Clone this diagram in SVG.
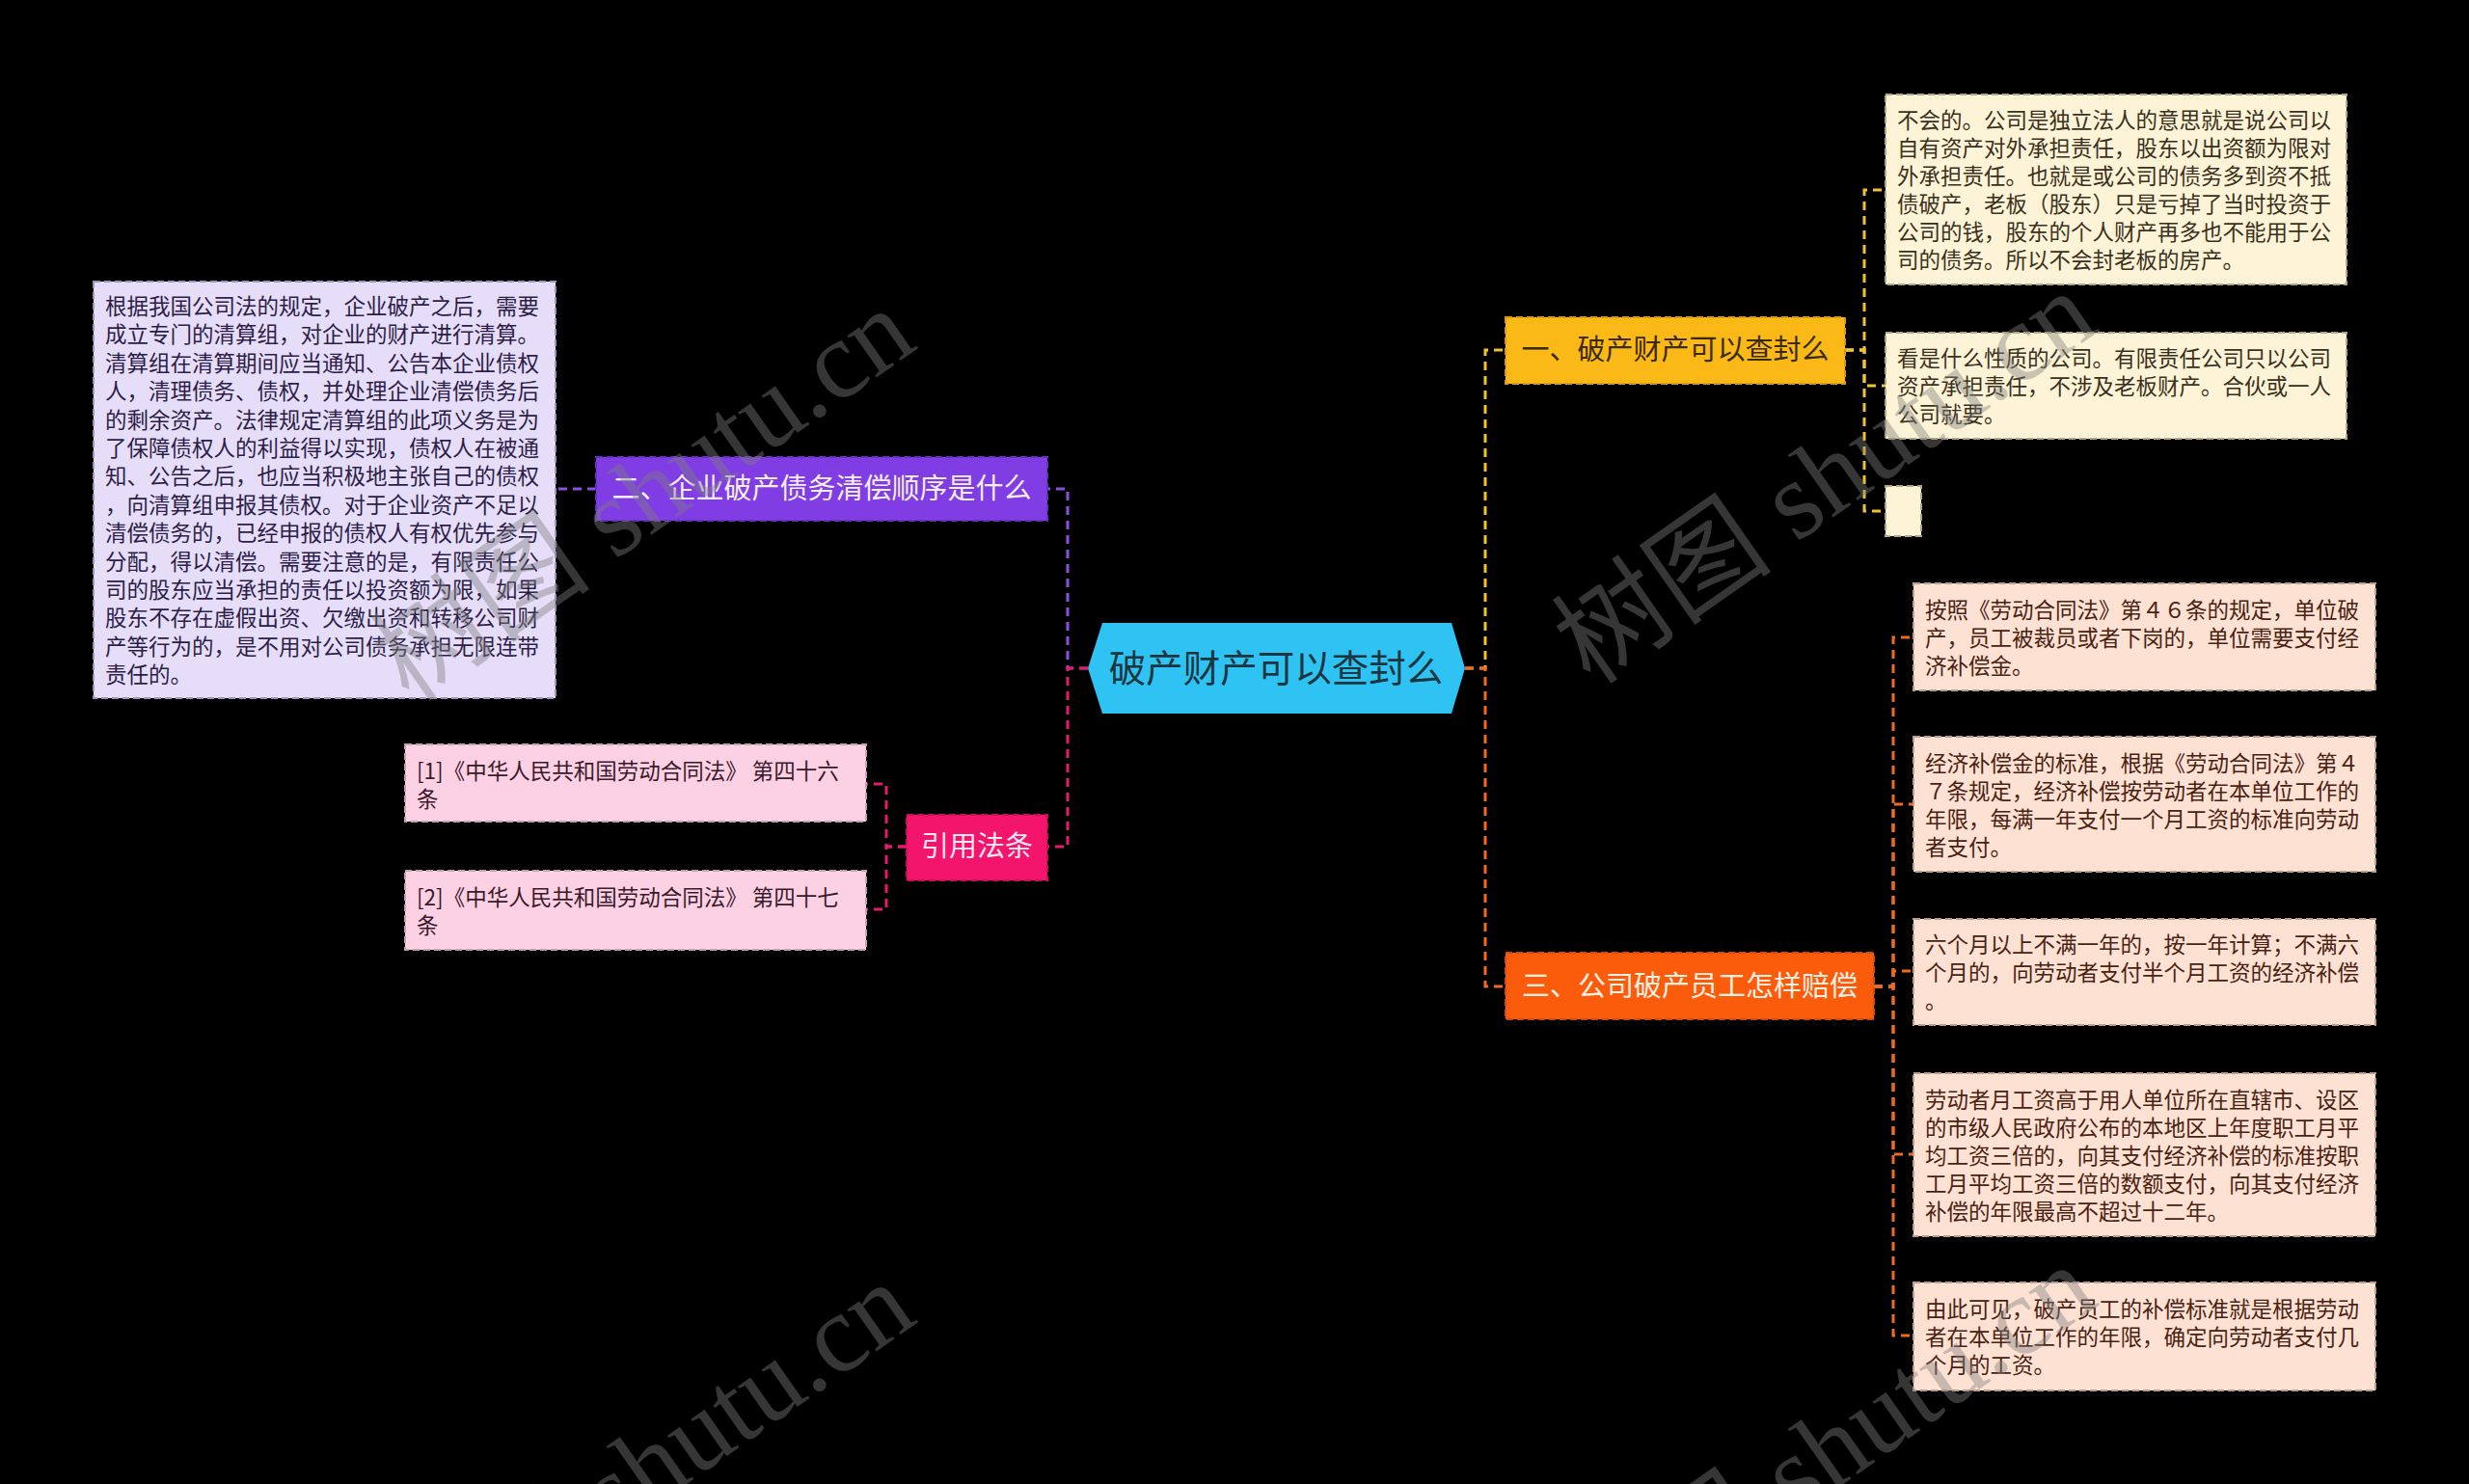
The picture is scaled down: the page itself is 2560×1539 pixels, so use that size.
<svg xmlns="http://www.w3.org/2000/svg" width="2560" height="1539" viewBox="0 0 2560 1539">
<style>
.bg{fill:#000}
.cn{fill:none;stroke-width:3;stroke-dasharray:9 6}
.cy{stroke:#f2c12e}.co{stroke:#f26a22}.cp{stroke:#8b4fe0}.ck{stroke:#e8196e}
.t{font-family:"Noto Sans CJK SC","Noto Sans",sans-serif;font-size:22.5px}
.tm{font-family:"Noto Sans CJK SC","Noto Sans",sans-serif;font-size:29px;text-anchor:middle}
.box{stroke-width:2;stroke-dasharray:7 4}
.cream{fill:#fdf3d6;stroke:#b3a680}
.lav{fill:#e6ddf9;stroke:#9f92c0}
.lpink{fill:#fdd1e4;stroke:#c89fb2}
.peach{fill:#fde1d2;stroke:#c09c8a}
.wm{font-family:"Liberation Serif","Noto Sans CJK SC",serif;font-size:115px;fill:#808080;opacity:0.42}
</style>
<rect class="bg" x="0" y="0" width="2560" height="1539"/>
<g id="connectors">
<path class="cn cy" d="M1519 693H1540V363H1561"/>
<path class="cn co" d="M1519 693H1540V1023H1561"/>
<path class="cn cp" d="M1128 693H1107V507H1086"/>
<path class="cn ck" d="M1128 693H1107V878H1086"/>
<path class="cn cy" d="M1913 363H1933V197H1955"/>
<path class="cn cy" d="M1913 363H1933V400H1955"/>
<path class="cn cy" d="M1913 363H1933V530H1955"/>
<path class="cn co" d="M1943 1023H1963V661H1984"/>
<path class="cn co" d="M1943 1023H1963V834H1984"/>
<path class="cn co" d="M1943 1023H1963V1007H1984"/>
<path class="cn co" d="M1943 1023H1963V1197H1984"/>
<path class="cn co" d="M1943 1023H1963V1385H1984"/>
<path class="cn cp" d="M618 507H576"/>
<path class="cn ck" d="M940 878H919V813H898"/>
<path class="cn ck" d="M940 878H919V943H898"/>
</g>
<g id="root">
<polygon points="1128,693 1143,646 1505,646 1519,693 1505,740 1143,740" fill="#2fc3f3"/>
<text x="1323" y="707" font-family="Noto Sans CJK SC, Noto Sans, sans-serif" font-size="38.5" text-anchor="middle" fill="#1c3640">破产财产可以查封么</text>
</g>
<g id="n1">
<rect class="box" x="1561" y="329" width="352" height="69" fill="#fbb917" stroke="#d99a10"/>
<text class="tm" x="1737" y="373" fill="#3a2a05">一、破产财产可以查封么</text>
</g>
<g id="n2">
<rect class="box" x="618" y="474" width="468" height="66" fill="#7f3de3" stroke="#6a2ec8"/>
<text class="tm" x="852" y="517" fill="#f4eefc">二、企业破产债务清偿顺序是什么</text>
</g>
<g id="n3">
<rect class="box" x="1561" y="988" width="382" height="69" fill="#fa5c0c" stroke="#d84a05"/>
<text class="tm" x="1752" y="1033" fill="#fff0e4">三、公司破产员工怎样赔偿</text>
</g>
<g id="n4">
<rect class="box" x="940" y="845" width="146" height="68" fill="#f3156c" stroke="#d00c5a"/>
<text class="tm" x="1013" y="888" fill="#ffe6f0">引用法条</text>
</g>
<g id="n1a">
<rect class="box cream" x="1955" y="98" width="478" height="197"/>
<text class="t" fill="#3a3020"><tspan x="1967" y="133">不会的。公司是独立法人的意思就是说公司以</tspan><tspan x="1967" y="162">自有资产对外承担责任，股东以出资额为限对</tspan><tspan x="1967" y="191">外承担责任。也就是或公司的债务多到资不抵</tspan><tspan x="1967" y="220">债破产，老板（股东）只是亏掉了当时投资于</tspan><tspan x="1967" y="249">公司的钱，股东的个人财产再多也不能用于公</tspan><tspan x="1967" y="278">司的债务。所以不会封老板的房产。</tspan></text>
</g>
<g id="n1b">
<rect class="box cream" x="1955" y="345" width="478" height="110"/>
<text class="t" fill="#3a3020"><tspan x="1967" y="380">看是什么性质的公司。有限责任公司只以公司</tspan><tspan x="1967" y="409">资产承担责任，不涉及老板财产。合伙或一人</tspan><tspan x="1967" y="438">公司就要。</tspan></text>
</g>
<g id="n1c">
<rect class="box cream" x="1955" y="504" width="37" height="52"/>
</g>
<g id="n2a">
<rect class="box lav" x="97" y="292" width="479" height="432"/>
<text class="t" fill="#2c1e48"><tspan x="109" y="326">根据我国公司法的规定，企业破产之后，需要</tspan><tspan x="109" y="355">成立专门的清算组，对企业的财产进行清算。</tspan><tspan x="109" y="385">清算组在清算期间应当通知、公告本企业债权</tspan><tspan x="109" y="414">人，清理债务、债权，并处理企业清偿债务后</tspan><tspan x="109" y="444">的剩余资产。法律规定清算组的此项义务是为</tspan><tspan x="109" y="473">了保障债权人的利益得以实现，债权人在被通</tspan><tspan x="109" y="502">知、公告之后，也应当积极地主张自己的债权</tspan><tspan x="109" y="532">，向清算组申报其债权。对于企业资产不足以</tspan><tspan x="109" y="561">清偿债务的，已经申报的债权人有权优先参与</tspan><tspan x="109" y="591">分配，得以清偿。需要注意的是，有限责任公</tspan><tspan x="109" y="620">司的股东应当承担的责任以投资额为限，如果</tspan><tspan x="109" y="649">股东不存在虚假出资、欠缴出资和转移公司财</tspan><tspan x="109" y="679">产等行为的，是不用对公司债务承担无限连带</tspan><tspan x="109" y="708">责任的。</tspan></text>
</g>
<g id="n4a">
<rect class="box lpink" x="420" y="772" width="478" height="80"/>
<text class="t" fill="#3a1a2a"><tspan x="432" y="808">[1]《中华人民共和国劳动合同法》 第四十六</tspan><tspan x="432" y="837">条</tspan></text>
</g>
<g id="n4b">
<rect class="box lpink" x="420" y="903" width="478" height="82"/>
<text class="t" fill="#3a1a2a"><tspan x="432" y="939">[2]《中华人民共和国劳动合同法》 第四十七</tspan><tspan x="432" y="968">条</tspan></text>
</g>
<g id="n3a">
<rect class="box peach" x="1984" y="605" width="479" height="111"/>
<text class="t" fill="#4a2212"><tspan x="1996" y="641">按照《劳动合同法》第４６条的规定，单位破</tspan><tspan x="1996" y="670">产，员工被裁员或者下岗的，单位需要支付经</tspan><tspan x="1996" y="699">济补偿金。</tspan></text>
</g>
<g id="n3b">
<rect class="box peach" x="1984" y="764" width="479" height="140"/>
<text class="t" fill="#4a2212"><tspan x="1996" y="800">经济补偿金的标准，根据《劳动合同法》第４</tspan><tspan x="1996" y="829">７条规定，经济补偿按劳动者在本单位工作的</tspan><tspan x="1996" y="858">年限，每满一年支付一个月工资的标准向劳动</tspan><tspan x="1996" y="887">者支付。</tspan></text>
</g>
<g id="n3c">
<rect class="box peach" x="1984" y="953" width="479" height="110"/>
<text class="t" fill="#4a2212"><tspan x="1996" y="988">六个月以上不满一年的，按一年计算；不满六</tspan><tspan x="1996" y="1017">个月的，向劳动者支付半个月工资的经济补偿</tspan><tspan x="1996" y="1046">。</tspan></text>
</g>
<g id="n3d">
<rect class="box peach" x="1984" y="1113" width="479" height="169"/>
<text class="t" fill="#4a2212"><tspan x="1996" y="1149">劳动者月工资高于用人单位所在直辖市、设区</tspan><tspan x="1996" y="1178">的市级人民政府公布的本地区上年度职工月平</tspan><tspan x="1996" y="1207">均工资三倍的，向其支付经济补偿的标准按职</tspan><tspan x="1996" y="1236">工月平均工资三倍的数额支付，向其支付经济</tspan><tspan x="1996" y="1265">补偿的年限最高不超过十二年。</tspan></text>
</g>
<g id="n3e">
<rect class="box peach" x="1984" y="1330" width="479" height="112"/>
<text class="t" fill="#4a2212"><tspan x="1996" y="1366">由此可见，破产员工的补偿标准就是根据劳动</tspan><tspan x="1996" y="1395">者在本单位工作的年限，确定向劳动者支付几</tspan><tspan x="1996" y="1424">个月的工资。</tspan></text>
</g>
<g id="watermarks">
<text class="wm" transform="translate(425,730) rotate(-35)">树图 shutu.cn</text>
<text class="wm" transform="translate(1650,712) rotate(-35)">树图 shutu.cn</text>
<text class="wm" transform="translate(425,1740) rotate(-35)">树图 shutu.cn</text>
<text class="wm" transform="translate(1650,1722) rotate(-35)">树图 shutu.cn</text>
</g>
</svg>
